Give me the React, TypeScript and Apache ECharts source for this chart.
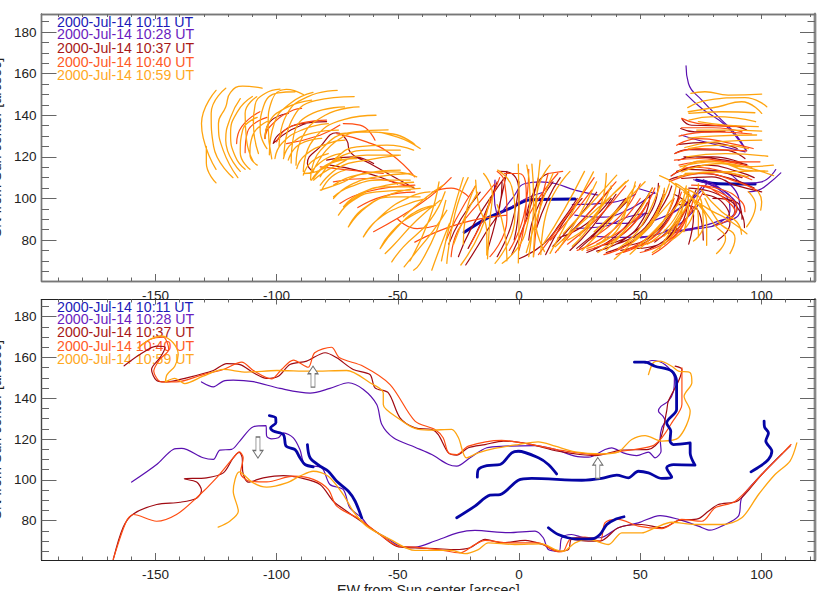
import React, { useEffect, useRef } from "react";
import * as echarts from "echarts";

const legendLabels = ["2000-Jul-14 10:11 UT", "2000-Jul-14 10:28 UT", "2000-Jul-14 10:37 UT", "2000-Jul-14 10:40 UT", "2000-Jul-14 10:59 UT"];
const xMajor = [-150, -100, -50, 0, 50, 100];
const xMinor = [-190, -180, -170, -160, -140, -130, -120, -110, -90, -80, -70, -60, -40, -30, -20, -10, 10, 20, 30, 40, 60, 70, 80, 90, 110, 120];
const yMajor = [80, 100, 120, 140, 160, 180];
const yMinor = [65, 70, 75, 85, 90, 95, 105, 110, 115, 125, 130, 135, 145, 150, 155, 165, 170, 175, 185];

// Top panel: fibrils, each a flat list x,y,x,y...
const topBlue = [
  [-22.6, 83.7, -13.3, 90.4, -3.7, 95.2, 3.9, 99.2, 23.1, 99.7],
  [73.3, 108.8, 81, 107.2, 97.4, 106.9],
];
const topPurple = [
  [68.9, 163.8, 69.9, 155.3, 75.4, 147.3, 83.6, 137.7, 89.1, 131.3, 93.9, 122.9],
  [68.9, 150.2, 75.4, 143.3, 85, 135.3, 91.2, 127.2, 93.5, 123.2],
  [108, 112.3, 103, 107.2, 98.8, 104, 94.6, 103.2],
  [105.9, 113.9, 100.1, 108, 93.3, 107.2, 86.4, 112, 78.1, 113.6],
  [67.1, 130.4, 74, 128, 93.3, 122.4],
  [85, 108.8, 90.5, 100.8, 91.2, 94.4, 83.6, 88, 69.9, 84.8, 61.6, 83.2],
  [78, 107, 88, 100, 89, 94, 82, 89, 68, 85],
  [72, 109, 84, 103, 87, 94, 80, 87],
  [23, 92, 33, 91, 44, 94, 56, 103],
  [22, 97, 38, 98, 48, 102],
  [30, 81.9, 42.4, 81.3, 54.7, 81.9],
  [23.1, 85.6, 34.1, 86.4, 45.1, 91.2, 53.4, 92.8],
  [60.2, 84.8, 71.3, 84.8],
  [56.1, 89.6, 67.1, 96, 75.4, 105.6],
  [-9.9, 108.8, -10.2, 100.8, -9.2, 92.8],
  [8.7, 108, 2.5, 107.2, -2.3, 100.8, -8.5, 91.2],
  [8.7, 108, 14.9, 107.2, 23.1, 104, 32.7, 101.6],
  [49.2, 104.8, 56.1, 102.4],
  [-3, 96, 3, 100, 10, 103],
  [32, 88, 44, 88, 52, 93],
  [50, 81, 64, 86, 74, 97],
  [62, 92, 72, 100, 78, 108],
  [76, 109, 84, 104, 90, 95, 87, 90],
];
const topDarkRed = [
  [-104.8, 128.9, -102.7, 136.9, -95.2, 140.9],
  [-101.4, 126.5, -98.6, 131.2, -89.7, 136, -79.4, 136.9],
  [-101.4, 126.5, -94, 133, -85, 137],
  [-84.9, 112.8, -87.3, 116.8, -82.1, 124.8, -75.2, 131.6, -71.1, 128, -69.7, 122.4, -61.5, 116.8, -43, 104.8],
  [-79.4, 118.4, -68.4, 120, -60, 116.8],
  [-78, 116, -65, 113, -50, 107],
  [-25, 72, -20, 85, -12, 100, -6, 110],
  [-29, 78, -24, 90, -16, 103],
  [-22, 68, -14, 83, -8, 96, -7, 108],
  [-13, 75, -9, 92, -5, 113],
  [-8, 113, -3, 112, 0, 100, -2, 80],
  [-9, 72, -3, 88, 0, 108],
  [0, 71, 10, 78, 17, 88, 24, 100],
  [7, 85, 12, 100, 17, 110],
  [11, 73, 18, 88, 26, 100],
  [3, 92, 8, 108, 12, 112],
  [18, 80, 28, 92, 38, 105],
  [25, 76, 34, 86, 44, 100],
  [32, 74.7, 43, 80, 51.3, 90.4, 54, 101.6],
  [34.1, 77.5, 45.8, 82.3, 54.8, 94.4, 57.5, 107.2],
  [45.1, 77.5, 54.1, 81.5, 63.7, 95.2, 66.4, 104.8],
  [23.8, 76, 33.4, 85.6, 44.4, 98.4],
  [16, 81, 28, 88, 38, 100],
  [48.6, 76, 56.8, 77.5, 65, 85.6],
  [60, 80, 68, 90, 70, 104],
  [67.3, 138, 71.2, 135.2, 87.7, 134.9, 93.9, 132.9],
  [66.7, 133.6, 72.6, 132, 85, 132.4],
  [64.3, 121.6, 69.8, 123.5, 85, 123.2, 93.2, 119.2],
  [65.7, 118.4, 72.6, 120, 85, 118.4, 94, 116.3],
  [62.7, 110.8, 69.8, 114, 81, 113.1, 92, 110],
  [67.1, 109.6, 79.5, 110.4, 89.1, 106.4, 100.1, 103.2],
  [70, 105, 82, 102, 92, 92, 93, 86],
  [76, 102, 84, 98, 87, 88, 82, 80],
  [66, 97, 74, 94, 76, 80],
  [80, 100, 90, 98, 92, 90],
  [64, 102, 72, 92, 70, 78],
  [28, 74, 40, 82, 50, 96, 55, 105],
  [31, 76, 44, 84, 53, 98],
  [36, 74, 50, 82, 60, 98, 63, 106],
  [40, 78, 52, 86, 60, 104],
  [42, 75, 56, 82, 66, 100],
  [21, 75, 30, 86, 40, 102],
  [14, 77, 24, 90, 32, 103],
  [52, 75, 62, 82, 70, 99],
  [56, 79, 66, 90, 73, 104],
  [68, 120, 80, 120, 92, 117],
  [66, 126, 78, 127, 90, 124],
  [65, 113, 78, 116, 90, 113, 97, 110],
  [62, 109, 74, 112, 86, 110, 97, 105],
  [-21, 76, -15, 90, -9, 108],
  [4, 80, 7, 94, 14, 108],
  [-3, 73, 3, 90, 8, 110],
];
const topRed = [
  [-116.5, 126.4, -114.4, 134.5, -106.9, 141.7],
  [-113, 122, -112, 132, -104, 139],
  [-104.8, 128.8, -102.8, 134.5, -93.1, 142.5, -89.7, 143.3],
  [-100, 127.2, -94.5, 134.5, -79.4, 137.7],
  [-95.9, 126.4, -82.1, 130.4, -73.9, 135.3],
  [-72.5, 136, -65.6, 135.3, -59.4, 128],
  [-75.2, 131.2, -62.9, 127.2, -53.2, 121.6, -43, 110.4],
  [-82, 115.2, -69.7, 113.6, -56, 112],
  [-73.9, 97.6, -62.9, 103.2, -43, 106.4],
  [-76.6, 108, -62.9, 109.6, -45, 105.6],
  [-66.5, 95.6, -56, 101, -43, 103],
  [-50, 90, -42, 85.5, -34, 87],
  [-43, 79, -24, 88, -5, 92],
  [-60, 84, -40, 98, -28, 110],
  [-36, 103, -28, 105, -21, 101],
  [-28, 72, -25, 85, -15, 100, -10, 107],
  [-30, 80, -26, 90, -18, 106],
  [-6, 112, 0, 112, 3, 100, 0, 75],
  [-9, 113, -6, 108, -5, 90, -12, 72],
  [6, 72, 8, 92, 12, 112],
  [8, 73, 20, 92, 31, 110],
  [15, 74, 28, 92, 40, 108],
  [12, 112, 18, 113],
  [32, 78, 48, 90, 56, 105],
  [28, 75, 44, 84, 54, 100],
  [40, 73, 56, 84, 64, 100],
  [55, 73, 66, 84, 72, 100],
  [46, 76, 62, 84, 70, 98],
  [67.1, 138.5, 74, 136, 93.2, 134.5],
  [65, 125.6, 74, 128.8, 87.7, 126.4, 96.6, 124],
  [64.3, 121.6, 74, 124, 87.7, 123.2, 93.9, 122.9],
  [64.1, 118.4, 74, 119.2, 89.1, 117.6, 99.4, 117.6],
  [63, 111, 71, 115, 88, 112, 96, 109],
  [71.2, 106.4, 82.2, 104.8, 91.8, 98.4, 93.2, 93.6],
  [73.9, 106.4, 85, 101.6, 89.8, 95.2, 86.3, 88.8],
  [78.1, 105.6, 86.3, 98.4, 89.1, 93.6, 81.5, 87.2],
  [20, 78, 32, 90, 44, 106],
  [24, 75, 38, 84, 50, 100],
  [35, 73, 50, 82, 60, 102],
  [43, 74, 58, 84, 67, 103],
  [50, 74, 62, 80, 70, 92],
  [29, 80, 42, 92, 50, 107],
  [13, 80, 22, 92, 30, 104],
  [60, 78, 70, 92, 76, 103],
  [66, 130, 80, 132, 96, 131],
  [67, 134, 80, 134, 92, 132],
  [66, 116, 80, 118, 96, 115],
  [62, 108, 76, 112, 90, 108, 98, 104],
  [-20, 78, -14, 92, -8, 110],
  [-4, 75, 2, 92, 4, 114],
  [0, 80, 6, 96, 16, 112],
];
const topOrange = [
  [-125, 152, -131, 136, -125, 114],
  [-129, 125, -129, 117, -125, 107.5],
  [-121, 153, -127, 141, -126, 125, -118, 110],
  [-106, 153, -114, 154, -119, 151, -121, 144, -124, 136, -122, 123, -116, 110],
  [-115, 148, -119, 139, -121, 128, -115, 113],
  [-110, 149, -116, 142, -119, 131, -117, 120, -113, 114],
  [-108, 139, -114, 133, -115, 122, -111, 114],
  [-104, 137, -110, 130, -111, 121, -108, 116],
  [-108.2, 148.9, -113, 140.9, -112.4, 128, -109.6, 117.6],
  [-98.6, 152.6, -104.8, 150.5, -108.9, 144.9, -109.6, 136, -107.5, 121.6],
  [-92.4, 151.3, -99.3, 150.8, -105.5, 144, -106.8, 132.9, -104, 124],
  [-89, 150, -96, 152.5, -102, 147, -103.5, 135, -102, 119],
  [-85, 151, -94, 146, -101, 136, -103, 121],
  [-75, 152, -87, 149, -96, 140, -99, 125],
  [-68, 149, -84, 147, -94, 137, -97, 120],
  [-72, 144, -85, 141, -93, 130, -94, 117],
  [-66, 144, -80, 140, -90, 128, -92, 116],
  [-59, 140, -72, 138, -85, 128, -89, 113],
  [-54, 133, -68, 132, -82, 123, -86, 109],
  [-43, 126, -52, 131, -63, 132, -76, 127, -85, 113],
  [-100.7, 119.2, -97.9, 126.4, -89.7, 132.9, -78.7, 136],
  [-97.2, 119.2, -93.8, 126.4, -85.6, 131.3, -74.5, 132.9],
  [-95.2, 118.4, -91, 125.7, -81.4, 128.9],
  [-91.7, 114.4, -88.3, 120.8, -78.7, 126.5, -71.8, 128],
  [-89, 111.2, -85.6, 117.6, -78.7, 121.6],
  [-85.6, 108.8, -80.7, 115.2, -73.2, 119.2],
  [-81.4, 104, -77.3, 110.4, -71.8, 113.6],
  [-104.8, 128.9, -103.4, 136, -96.6, 143.3, -85.6, 147.3],
  [-40.8, 124, -50.4, 129.6, -62.8, 132, -73.8, 131.2],
  [-43.5, 123.2, -54.5, 125.6, -66.9, 124.8, -76.5, 118.4, -82, 110.4],
  [-49.7, 120.8, -62.8, 120.8, -76.5, 115.2, -84.8, 108.8],
  [-49, 123.2, -61.4, 123.2, -72.4, 120.8, -82, 113.6, -88.9, 112],
  [-42.2, 110.4, -51.8, 112.8, -66.9, 111.2, -76.5, 106.4],
  [-49, 113.6, -64.2, 112, -73.8, 107.2, -82, 104],
  [-44.9, 108.8, -57.3, 108.8, -69.7, 105.6, -76.5, 100.8],
  [-43.5, 105.6, -54.5, 105.6, -65.5, 102.4, -72.4, 96],
  [-44.9, 104, -58.7, 103.2, -68.3, 99.2, -74.5, 92],
  [-40.8, 100.8, -51.8, 100.8, -64.2, 95.2, -70.4, 86.3],
  [-38, 100, -49, 96, -58.7, 89.5, -64.2, 81.5],
  [-34.6, 96.7, -44.9, 91.2, -53.2, 83.1, -57.3, 75.9],
  [-31.2, 106.4, -38, 100.8, -47.7, 91.2],
  [-32.5, 99.1, -42.2, 89.5, -51.8, 77.5, -55.2, 73.5],
  [-30.5, 103.2, -36.7, 89.5, -47.7, 76.7, -52.5, 69.5],
  [-29.8, 94.3, -35.3, 84.7, -43.5, 72.7, -47.4, 67.1],
  [-30.2, 99.1, -33.9, 84.7, -40.8, 68.7, -43.5, 65.5],
  [-28.7, 88, -32.5, 76.7, -36, 65.5],
  [-82, 106.4, -73.8, 115.2, -62.8, 118.4, -49, 120.8],
  [-84.8, 109.6, -77.9, 116.8, -66.9, 119.2],
  [-86.2, 112, -80.7, 118.4, -73.8, 121.6],
  [-76.5, 100, -69.7, 106.4, -58.7, 110.4, -44.9, 112],
  [-74.5, 92, -66.9, 100.8, -54.5, 106.4, -43.5, 107.8],
  [-70.4, 86.3, -62.8, 96, -51.8, 102.4, -40.8, 104.8],
  [-64.2, 81.5, -55.9, 92.7, -44.9, 100.8, -36.7, 103.2],
  [-57.3, 75.9, -50.4, 86, -42, 94, -34.6, 96.7],
  [-21, 110, -26.4, 92.8, -29.8, 68.8],
  [-23, 110, -28, 90, -32, 70],
  [-33, 108, -37, 90, -45, 70],
  [-17.9, 108.8, -16.8, 97.6, -13.3, 83.2, -13.3, 72.8],
  [-14.6, 112, -11, 102, -12, 90, -13, 71],
  [-8.8, 113.6, -3, 105.6, -1.7, 91.2, -9.9, 68.8],
  [-0.3, 116.5, 0, 92.8, -0.3, 69],
  [3.2, 116, 4.5, 102.4, 2.5, 83.2, -6.9, 68.8],
  [5.3, 116.5, 6, 100, 4, 72],
  [8.7, 118.4, 7.3, 100.8, 5.9, 72],
  [12.8, 116, 8, 105.6, 6.6, 91.2, 10.5, 74.4],
  [-18, 106, -22, 92, -23, 78],
  [-12, 100, -16, 84, -24, 68],
  [-27, 78, -22, 92, -17, 103],
  [-9, 97, -6, 84, -5, 70],
  [14, 112, 10, 100, 3, 74],
  [21, 113, 12, 96, 9, 73],
  [12.8, 73.6, 21.7, 92.8, 30.7, 112.8],
  [10, 78, 18.8, 95, 27, 113],
  [18.3, 83.2, 28.6, 96, 40.3, 111.2],
  [14.9, 76.8, 28.6, 91.2, 45.1, 108.8],
  [25, 82, 34, 96, 44, 108],
  [20, 80, 32, 92, 36, 112],
  [26, 75, 38, 90, 48, 106],
  [32.5, 74, 44.5, 86, 55, 105],
  [39.3, 70.8, 50.6, 83.2, 63, 99.2],
  [45.8, 73.2, 56.1, 84.8, 67.1, 99.2],
  [36, 75, 46, 88, 54, 103],
  [44, 78, 54, 88, 62, 107],
  [50, 76, 60, 90, 65, 107],
  [28, 76, 40, 84, 45, 100],
  [53, 78, 64, 90, 69, 106],
  [58, 76, 68, 94, 72, 102],
  [63, 80, 71, 90, 74, 107],
  [16, 75, 24, 90, 32, 108],
  [22, 77, 30, 88, 38, 106],
  [33, 78, 42, 90, 48, 108],
  [41, 76, 50, 86, 58, 106],
  [47, 79, 56, 90, 60, 105],
  [55, 74, 64, 84, 68, 100],
  [31, 84, 40, 94, 52, 108],
  [60, 82, 66, 92, 70, 104],
  [70.9, 150.5, 76.7, 151.3, 86.3, 149.7, 100.1, 150.2],
  [69.6, 143.7, 78.1, 147.3, 93.2, 148.5, 102.2, 144.1],
  [69.8, 141.7, 82.2, 144.1, 91.8, 146.5, 100.1, 140.9],
  [70.1, 140.9, 83.6, 141.7, 97.3, 141.2],
  [70.1, 137.7, 80.8, 139.3, 97.6, 136.9],
  [74, 136.9, 85, 135.3, 98.7, 134.5],
  [73.3, 132.9, 86.3, 132.9, 100.1, 132.4],
  [69.8, 129, 80, 130, 98, 130.5],
  [68.4, 124.5, 80.8, 127.2, 100.1, 128],
  [69.8, 124, 83.6, 125.6, 94.6, 124],
  [69.1, 120, 85, 121.6, 102.6, 120.3],
  [66.4, 115.2, 80.8, 117.6, 92.5, 115.2, 104.9, 116],
  [67.1, 112.8, 83.6, 116.8, 93.2, 113.6, 102.6, 113.1],
  [65.7, 110.4, 79.5, 112.8, 94.6, 110.4],
  [68.5, 112, 83.6, 112.8, 101.5, 113.3],
  [66, 113, 75, 118, 90, 116, 105, 111],
  [98.7, 103.2, 100.1, 98.4, 99.7, 94.4],
  [94.6, 103.2, 97.6, 96.8, 93.9, 86.4],
  [75.3, 104, 83.6, 93.6, 89.8, 88.8, 91.8, 82.8],
  [76.7, 100, 82.2, 88.8, 89.1, 80.7, 87, 73.5],
  [73.9, 98.4, 80.8, 87.2, 85.2, 80.7, 81.5, 73.5],
  [72.6, 98.4, 77.4, 88.8, 77.4, 77.5],
  [68.5, 104.8, 75.3, 98.4, 76, 87, 72, 79.5],
  [64.5, 107.2, 70.5, 101.6, 74, 88.8, 74, 81.5],
  [58, 111, 64, 107, 70, 99, 68, 84],
  [68, 103, 78, 95, 86, 90, 94, 83],
];

// Bottom panel: outlines
const botBlue = [
  [-103, 131.5, -100.4, 130.4, -100.3, 128, -102.5, 125.5, -101.4, 123.9, -97.2, 122.2, -96.1, 116.5, -92.4, 114.8, -90.4, 110.8, -88.3, 107.5, -84.9, 106.4],
  [-87.3, 117.3, -86.2, 110.8, -82.1, 106.7, -78.7, 104.2, -75.2, 99.3, -70.4, 94.4, -67.6, 89.5, -64.9, 81.4],
  [-17.2, 101.3, -16.8, 105, -13.3, 107, -7.8, 107.5, -3, 113.2, -0.3, 114, 8, 110.8, 12.1, 107.5, 15.5, 102.9],
  [-25.7, 81.4, -18.2, 87.1, -12, 92.5, -7.8, 92.8, -0.3, 99.8, 5.2, 100.7, 25.9, 99.8, 34.1, 100.7, 40.3, 102.3, 45.1, 101, 49.2, 104.2, 53.4, 103.4, 58.9, 100.7, 63, 101.3, 60.9, 105.9, 63.7, 107.5, 72.6, 107.2, 70.6, 113.2, 70.6, 118.1, 63.7, 117.3, 62.3, 119, 62.6, 123.9, 60.9, 127.9, 65, 134.5, 65, 148.4, 63, 153.3, 56.1, 155.7, 52, 157.7, 47.6, 157.7],
  [101.1, 128.8, 101.3, 125.8, 102.9, 123, 101.8, 119, 104.3, 114, 102.9, 110, 99.5, 106.7, 95.7, 103.9],
  [12.1, 76.5, 16.2, 73.2, 23.1, 71.1, 30, 71.1, 33.4, 73.2, 36.2, 78.1, 39.6, 80.6, 43.3, 81.9],
];
const botPurple = [
  [-131, 148, -126.1, 145.6, -122, 148.4, -117.9, 148.9, -109.6, 148.1, -98.6, 144.8, -86.2, 142.5, -78, 144.8, -70.4, 147.6, -64.2, 144.3, -58.7, 136.9, -56.6, 127.1, -51.8, 120.6, -42.9, 116, -36, 112.4, -29.1, 107.5, -25.7, 106.7, -20.2, 110.8, -13.3, 115.7, -5.8, 116.5, 6.6, 116.8, 14.9, 114.9, 23.1, 111.6, 28.6, 111.1, 35.5, 114.9, 38.2, 115.7, 43, 113.2, 48.6, 111.9, 53.4, 113.6, 56.1, 110.8, 58.6, 114, 58.2, 120.6, 58.9, 125.5, 60.3, 128.8, 59.5, 131, 57.5, 133.7, 58.5, 136, 61.6, 138.6, 63.7, 143.3, 64.1, 149.8, 60.3, 156.4, 54.8, 158.5, 52, 157.2],
  [-159.8, 98.9, -149.5, 107.5, -142.7, 114.9, -139.2, 115.4, -130.3, 110.8, -126.1, 110, -123.4, 114.6, -118.6, 114.9, -115.2, 119, -109.6, 126, -104.4, 126.6, -104.1, 121.4, -102.1, 120.1, -99.3, 120.6, -97.2, 123, -93.1, 120.6, -90.4, 114.9, -88.3, 107.5, -81.4, 105.9, -78, 97.7, -72.5, 95.2, -69.8, 86.3, -64.9, 81.4, -61.5, 76.5, -54.7, 71.6, -49.1, 67.5, -42.9, 67, -34.7, 70, -25, 74.1, -18.2, 75.2, -4.4, 74.1, 6.6, 74.9, 10, 71.6, 12.1, 65.8, 16.5, 65, 17.6, 71.6, 21.7, 73.2, 27.2, 71.6, 33.4, 71.6, 41, 76.5, 49.2, 78.9, 58.2, 82.5, 65.8, 80.6, 74, 77.3, 78.8, 75.3, 83.6, 77.3, 90.5, 82.2, 91.9, 91.2, 100.1, 102.6, 108.4, 112.7],
];
const botDarkRed = [
  [-162.9, 155.9, -156.4, 161.4, -149.5, 165.5, -146, 165, -148, 160, -151.6, 154.1, -149.5, 148.7, -145.4, 148, -137.1, 150, -126.1, 153.6, -120.6, 157, -115.1, 156.5, -109.6, 152.5, -104.1, 149.7, -99.3, 150.8, -94.5, 156.5, -87.6, 158.2, -80, 162.3, -75.2, 159.8, -68.4, 154.1, -61.5, 151.6, -59.4, 145.1, -53.9, 142.6, -49.1, 130.4, -42.9, 125.5, -36, 124.7, -33.3, 122.2, -29.1, 113.2, -25.7, 112.1, -20.9, 115.7, -14, 117.3, -6.4, 119, 3.9, 117.6, 16.2, 114, 31.4, 111.9, 42.4, 114.6, 53.4, 114.9, 58.2, 119.8, 60.9, 133.7, 61.6, 138.6, 65.8, 148.4, 67.2, 154.1, 64.4, 155.7],
  [-167.4, 61, -163.3, 76.8, -159.1, 83.3, -149.5, 87.9, -139.9, 89, -133, 91, -131, 94.8, -133, 98.9, -138.1, 100.5, -128.9, 101, -122, 103.4, -117.9, 110.8, -115.4, 113.5, -114.2, 110.8, -114, 104.2, -111.7, 98.9, -105.5, 101, -97.2, 102.1, -90.4, 101, -82.1, 97.7, -76.6, 89.5, -71.1, 84.6, -64.2, 78.9, -57.4, 73.2, -50.6, 67.5, -42.9, 66.6, -34.7, 66.3, -26.4, 65.8, -20.2, 66.7, -14, 70.8, -7, 69.1, 2.5, 70.3, 9.4, 68.4, 16.2, 65, 20.4, 65.8, 21.7, 70.8, 28.6, 70, 33.4, 70, 41, 76.5, 50.6, 78.1, 58.9, 76.5, 65.8, 80.1, 74, 81, 78.1, 84.6, 82.2, 87.9, 90.5, 89.9, 100.1, 102.6, 111.8, 116.5],
];
const botRed = [
  [-157.1, 164.7, -152.3, 168.8, -146.8, 169.9, -144.5, 163.9, -148.2, 159, -150.7, 153.3, -147.5, 148, -141.3, 148, -130.3, 151.6, -122, 154.1, -114.4, 157.7, -109.6, 153.6, -102.1, 149.5, -98, 154.1, -93.1, 158.7, -87, 155.2, -84.3, 162.3, -77.4, 165, -74, 159.8, -64.3, 155.7, -53.2, 146.7, -42.9, 128.8, -34.7, 124.7, -31.3, 120.6, -29.1, 113.2, -25.7, 112.4, -20.9, 116.5, -7.2, 119.3, 5.2, 117.3, 17.6, 114.4, 32, 112.4, 42.4, 114, 54.7, 116.5, 58.9, 120.6, 63, 127.9, 67.2, 137, 67.2, 154.9],
  [-167.4, 61, -162, 79.7, -159.1, 83, -149.5, 79.7, -141.3, 83, -133, 91.2, -124.8, 101, -117.9, 110.8, -115.4, 113.7, -113.8, 110.8, -114.9, 103.4, -111, 99.3, -104.1, 99, -93.1, 101.8, -84.9, 100.2, -78.7, 95.3, -75.2, 87.1, -65.6, 80.6, -57.4, 73.2, -49.8, 67.5, -42.9, 67, -33.3, 65.8, -24.4, 64.2, -18.2, 68.3, -14, 70.3, -4.4, 69.1, 7.9, 69.1, 16.5, 64.7, 18.3, 65, 21, 70.8, 27.2, 71.9, 33.4, 70, 35.5, 79, 41, 80.6, 49.2, 77.3, 58.9, 76.1, 67.1, 80.6, 75.4, 79.7, 80.9, 86.3, 89.1, 89.4, 100.1, 102.6, 112.2, 117.3],
];
const botOrange = [
  [-157.1, 164.7, -152.3, 168.8, -147.5, 170.5, -142.7, 167.2, -140.6, 161.4, -142, 155.7, -145.2, 151.6, -145.9, 148, -142, 149.7, -137.9, 147.2, -130.3, 150.8, -122, 154.1, -112.4, 152.8, -99.9, 153.6, -86.2, 153.3, -71.1, 153.6, -61.5, 147.6, -56, 142.6, -56, 136.9, -49.1, 129.6, -42.9, 125.2, -37.4, 124.4, -27.8, 124.7, -25, 120.6, -21.7, 110.8, -16.9, 113.2, -10, 115.4, -0.3, 117.3, 7.9, 118.6, 14.9, 116.5, 23.1, 113.7, 34.1, 112.7, 41, 113.7, 46.5, 119.8, 52, 121.7, 58.9, 119, 65.8, 120.6, 70.6, 133.7, 68.1, 141, 71.3, 147.6, 70.6, 152.5, 65.8, 153.3, 63, 155.7, 58.2, 158.2, 55.4, 157.4, 53.4, 151.6],
  [-124.1, 76.8, -119.3, 79.7, -115.8, 84.6, -117.9, 94.4, -115.4, 103.9, -109.6, 98.5, -104.1, 96.4, -95.9, 98.5, -90.4, 101.8, -84.9, 104.2, -78.7, 101.8, -72.5, 92.8, -68.4, 84.6, -62.9, 77.3, -53.2, 70.8, -42.9, 65.4, -34.7, 65.4, -27.8, 65.4, -22.3, 63.8, -16.8, 65.8, -12.7, 69.1, -1.7, 68.3, 9.4, 68.6, 14.9, 65.8, 18.3, 65, 23.1, 69.1, 28.6, 70.8, 36.9, 68.3, 42.4, 74, 50.6, 74, 56.1, 76.5, 63, 79.2, 72.6, 78.1, 83.6, 78.1, 91.9, 81.4, 98.8, 92.8, 105.6, 102.6, 111.8, 109.2, 114.6, 118.1],
];
const arrowsUp = [[-85, 150.6], [32.5, 105.8]];
const arrowsDown = [[-107.7, 115.8]];

const ink = { blue: "#0505a5", purple: "#5a10b0", darkRed: "#a00a12", red: "#ff4d12", orange: "#ffa40f" };
const legendInk = ["#1a1ab8", "#6a1cc0", "#a81818", "#ff5a25", "#ffa81f"];
const FONT = "'Liberation Sans', Helvetica, Arial, sans-serif";

function join(list: number[][]) {
  const out: (number[])[] = [];
  list.forEach((f, k) => {
    if (k) out.push([NaN, NaN]);
    for (let i = 0; i < f.length; i += 2) out.push([f[i], f[i + 1]]);
  });
  return out;
}
function line(list: number[][], color: string, width: number, p: number, smooth: number) {
  return {
    type: "line", xAxisIndex: p * 4, yAxisIndex: p * 4, data: join(list), showSymbol: false, symbol: "none",
    smooth, connectNulls: false, lineStyle: { color, width, cap: "round", join: "round" }, silent: true, clip: true,
  };
}

function xAxisOf(p: number, pos: string, values: number[], len: number, labels: boolean, lineCol: string, lineW: number, name?: string) {
  return {
    type: "value", gridIndex: p, min: -197, max: 122.1, position: pos, scale: true,
    axisLine: { show: true, onZero: false, lineStyle: { color: lineCol, width: lineW } },
    axisTick: { show: true, inside: true, length: len, customValues: values, lineStyle: { color: "#666", width: 1 } },
    axisLabel: { show: labels, customValues: values, margin: 7, color: "#222", fontSize: 13.5, fontFamily: FONT, hideOverlap: false, showMinLabel: true, showMaxLabel: true },
    splitLine: { show: false }, minorTick: { show: false },
    ...(name ? { name, nameLocation: "middle", nameGap: 23, nameTextStyle: { color: "#222", fontSize: 14.3, fontFamily: FONT } } : {}),
  };
}
function yAxisOf(p: number, pos: string, values: number[], len: number, labels: boolean, lineCol: string, lineW: number, lo: number, hi: number, name?: string) {
  return {
    type: "value", gridIndex: p, min: lo, max: hi, position: pos, scale: true,
    axisLine: { show: true, onZero: false, lineStyle: { color: lineCol, width: lineW } },
    axisTick: { show: true, inside: true, length: len, customValues: values, lineStyle: { color: "#666", width: 1 } },
    axisLabel: { show: labels, customValues: values, margin: 5, color: "#222", fontSize: 13.5, fontFamily: FONT, showMinLabel: true, showMaxLabel: true },
    splitLine: { show: false }, minorTick: { show: false },
    ...(name ? { name, nameLocation: "middle", nameGap: 36, nameTextStyle: { color: "#222", fontSize: 14.3, fontFamily: FONT } } : {}),
  };
}

const topLegendY = [22.7, 35.3, 49.3, 62.7, 75.7];
const botLegendY = [307.7, 320.3, 333.3, 346.7, 360];
const yTitle = "SN from Sun center [arcsec]";
const xTitle = "EW from Sun center [arcsec]";
const arrowPath = "path://M5 0 L10 8 L7 8 L7 22 L3 22 L3 8 L0 8 Z";

function arrows(data: number[][], rot: number) {
  return {
    type: "scatter", xAxisIndex: 4, yAxisIndex: 4, data, symbol: arrowPath, symbolSize: [10, 21], symbolRotate: rot, silent: true,
    itemStyle: { color: "#ffffff", borderColor: "#707070", borderWidth: 1, opacity: 1 }, z: 6,
  };
}

export default function App() {
  const ref = useRef<HTMLDivElement>(null);
  useEffect(() => {
    const chart = echarts.init(ref.current!, undefined, { renderer: "svg" });
    const text = (s: string, y: number, c: string) => ({
      type: "text", left: 57, top: y - 8, z: 0,
      style: { text: s, fill: c, font: `14.2px ${FONT}` },
    });
    chart.setOption({
      animation: false,
      backgroundColor: "#ffffff",
      grid: [
        { left: 41.5, top: 14, width: 773.5, height: 267, outerBoundsMode: "none", containLabel: false },
        { left: 41.5, top: 299.5, width: 773.5, height: 260.5, outerBoundsMode: "none", containLabel: false },
      ],
      xAxis: [
        xAxisOf(0, "bottom", xMajor, 7, true, "#777", 1.4),
        xAxisOf(0, "bottom", xMinor, 3.5, false, "#777", 1.4),
        xAxisOf(0, "top", xMajor, 5, false, "#777", 1.4),
        xAxisOf(0, "top", xMinor, 3, false, "#777", 1.4),
        xAxisOf(1, "bottom", xMajor, 7, true, "#222", 1, xTitle),
        xAxisOf(1, "bottom", xMinor, 3.5, false, "#222", 1),
        xAxisOf(1, "top", xMajor, 5, false, "#222", 1),
        xAxisOf(1, "top", xMinor, 3, false, "#222", 1),
      ],
      yAxis: [
        yAxisOf(0, "left", yMajor, 15, true, "#777", 1.4, 60.3, 188.7, yTitle),
        yAxisOf(0, "left", yMinor, 7.5, false, "#777", 1.4, 60.3, 188.7),
        yAxisOf(0, "right", yMajor, 15, false, "#888", 2.4, 60.3, 188.7),
        yAxisOf(0, "right", yMinor, 7.5, false, "#888", 2.4, 60.3, 188.7),
        yAxisOf(1, "left", yMajor, 15, true, "#444", 1.2, 60.7, 188.4, yTitle),
        yAxisOf(1, "left", yMinor, 7.5, false, "#444", 1.2, 60.7, 188.4),
        yAxisOf(1, "right", yMajor, 15, false, "#888", 2.4, 60.7, 188.4),
        yAxisOf(1, "right", yMinor, 7.5, false, "#888", 2.4, 60.7, 188.4),
      ],
      graphic: [
        ...legendLabels.map((s, i) => text(s, topLegendY[i], legendInk[i])),
        ...legendLabels.map((s, i) => text(s, botLegendY[i], legendInk[i])),
      ],
      series: [
        line(topBlue, ink.blue, 3, 0, 0.3),
        line(topPurple, ink.purple, 1.2, 0, 0.5),
        line(topDarkRed, ink.darkRed, 1.2, 0, 0.5),
        line(topRed, ink.red, 1.2, 0, 0.5),
        line(topOrange, ink.orange, 1.3, 0, 0.5),
        line(botPurple, ink.purple, 1.2, 1, 0.3),
        line(botDarkRed, ink.darkRed, 1.2, 1, 0.3),
        line(botRed, ink.red, 1.2, 1, 0.3),
        line(botOrange, ink.orange, 1.3, 1, 0.3),
        line(botBlue, ink.blue, 2.8, 1, 0.3),
        arrows(arrowsUp, 0),
        arrows(arrowsDown, 180),
      ],
    });
    return () => chart.dispose();
  }, []);
  return <div ref={ref} style={{ position: "fixed", left: 0, top: 0, width: 830, height: 591, overflow: "hidden" }} />;
}
